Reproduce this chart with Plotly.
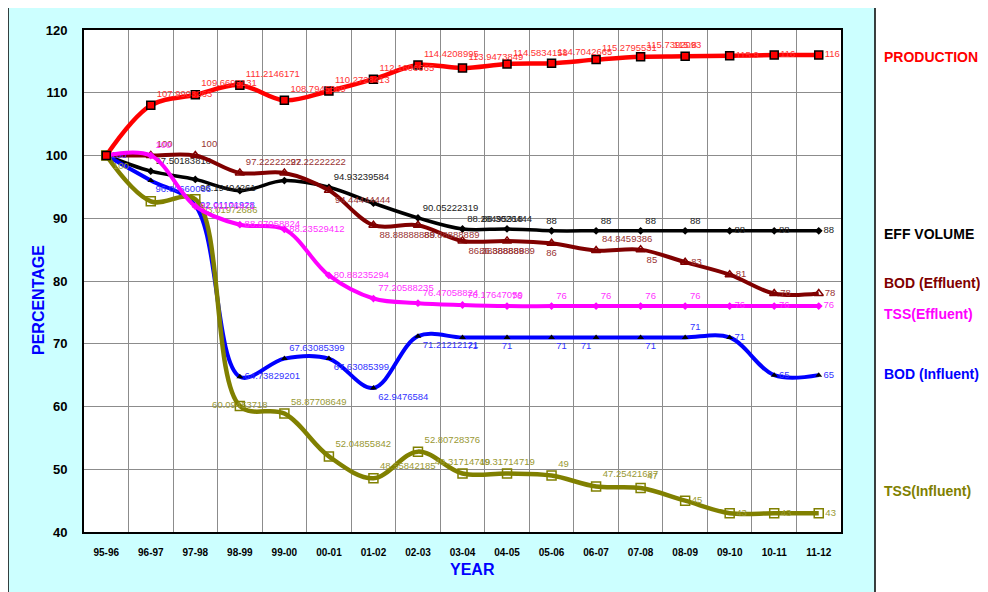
import plotly.graph_objects as go

years = ["95-96", "96-97", "97-98", "98-99", "99-00", "00-01", "01-02", "02-03", "03-04",
         "04-05", "05-06", "06-07", "07-08", "08-09", "09-10", "10-11", "11-12"]

production = [100, 107.9903263, 109.6693131, 111.2146171, 108.7945569, 110.2728413, 112.1606665,
              114.4208995, 113.9473849, 114.5834158, 114.7042665, 115.2795531, 115.7392093,
              115.8, 115.9, 116, 116]
eff_volume = [100, 97.50183818, 96.19404261, 94.4, 96.0, 94.93239584, 92.4, 90.05222319,
              88.28495318, 88.3026444, 88, 88, 88, 88, 88, 88, 88]
bod_effluent = [100, 100, 100, 97.22222222, 97.22222222, 94.44444444, 88.88888889, 88.88888889,
                86.38888889, 86.38888889, 86, 84.8459386, 85, 83, 81, 78, 78]
tss_effluent = [100, 100, 91.91176471, 88.97058824, 88.23529412, 80.88235294, 77.20588235,
                76.47058824, 76.17647059, 76, 76, 76, 76, 76, 76, 76, 76]
bod_influent = [100, 96.00660066, 92.01101928, 64.73829201, 67.63085399, 67.63085399, 62.9476584,
                71.21212121, 71, 71, 71, 71, 71, 71, 71, 65, 65]
tss_influent = [100, 92.7, 93.01972686, 60.09453718, 58.87708649, 52.04855842, 48.55842185,
                52.80728376, 49.31714719, 49.31714719, 49, 47.25421687, 47, 45, 43, 43, 43]

# indices whose data labels are not visible in the reference
hidden = {
    "production": [0],
    "eff_volume": [0, 3, 4, 6],
    "bod_effluent": [0],
    "tss_effluent": [0],
    "bod_influent": [],
    "tss_influent": [1],
}

y_ticks = [40, 50, 60, 70, 80, 90, 100, 110, 120]
FONT = "Arial, Liberation Sans, sans-serif"


def labels(values, key):
    return ["" if i in hidden[key] else str(v) for i, v in enumerate(values)]


TR, MR, BR, TC, BC, BL, MC = ("top right", "middle right", "bottom right", "top center",
                              "bottom center", "bottom left", "middle center")

pos_production = [TR] * 13 + [TC, MR, MR, MR]
pos_eff = [TR, TR, BR, TR, TR, TR, TR, TR, TR, TC, TC, TR, TR, TR, MR, MR, MR]
pos_bode = [TR, TR, TR, TR, TR, BR, BR, BR, BR, BC, BC, TR, BR, MR, MR, MR, MR]
pos_tsse = [TR, TR, MR, MR, MR, MR, TR, TR, TR, TR, TR, TR, TR, TR, MR, MR, MR]
pos_bodi = [MR, BR, MR, MR, TR, BR, BR, BR, BR, BC, BR, BL, BR, TR, MR, MR, MR]
pos_tssi = [BR, BR, BR, MC, TR, TR, TR, TR, TC, TC, TR, TR, TR, MR, MR, MR, MR]

series = [
    ("eff_volume", eff_volume, "#000000", "#222222", dict(symbol="diamond", size=6, color="#000000"), 3.5, pos_eff),
    ("bod_effluent", bod_effluent, "#800000", "#993333",
     dict(symbol="triangle-up-open", size=8, color="#800000", line=dict(width=1.5, color="#800000")), 4, pos_bode),
    ("bod_influent", bod_influent, "#0000FF", "#3333FF",
     dict(symbol="triangle-up", size=6, color="#000000"), 4, pos_bodi),
    ("tss_influent", tss_influent, "#808000", "#999933",
     dict(symbol="square-open", size=9, color="#808000", line=dict(width=1.5, color="#808000")), 4.5, pos_tssi),
    ("tss_effluent", tss_effluent, "#FF00FF", "#FF33FF", dict(symbol="diamond", size=6, color="#FF00FF"), 4, pos_tsse),
    ("production", production, "#FF0000", "#FF3333",
     dict(symbol="square", size=8, color="#FF0000", line=dict(width=1.5, color="#000000")), 4.5, pos_production),
]

fig = go.Figure()
for key, vals, color, tcolor, marker, width, pos in series:
    fig.add_trace(go.Scatter(
        x=years, y=vals, mode="lines+markers+text",
        line=dict(color=color, width=width, shape="spline", smoothing=1.0),
        marker=marker,
        text=labels(vals, key), textposition=pos,
        textfont=dict(family=FONT, size=9.5, color=tcolor),
        cliponaxis=False, showlegend=False, name=key,
    ))

# page offset of the figure inside the browser page (default body margin)
OFF = 8
W, H = 988 - OFF, 592 - OFF
L, R, T, B = 84 - OFF, 841 - OFF, 30 - OFF, 532 - OFF


def px_x(p):
    return (p - OFF - L) / (R - L)


def px_y(p):
    return (B - (p - OFF)) / (B - T)


shapes = [
    dict(type="rect", xref="paper", yref="paper", x0=px_x(8), x1=px_x(875), y0=px_y(660), y1=px_y(3),
         fillcolor="#CCFFFF", line=dict(color="#000000", width=1.5), layer="below"),
    dict(type="rect", xref="paper", yref="paper", x0=0, x1=1, y0=0, y1=1,
         fillcolor="#FFFFFF", line=dict(width=0), layer="below"),
    dict(type="line", xref="paper", yref="y", x0=0, x1=1, y0=60, y1=60,
         line=dict(color="#000000", width=1.2), layer="between"),
]

right_labels = [
    ("PRODUCTION", 57, "#FF0000"),
    ("EFF VOLUME", 234, "#000000"),
    ("BOD (Effluent)", 283, "#800000"),
    ("TSS(Effluent)", 314, "#FF00FF"),
    ("BOD (Influent)", 374, "#0000FF"),
    ("TSS(Influent)", 491, "#808000"),
]
annotations = [
    dict(text=t, x=px_x(882), y=px_y(yy), xref="paper", yref="paper", xanchor="left", yanchor="middle",
         showarrow=False, font=dict(family=FONT, size=14, color=c, weight="bold"))
    for t, yy, c in right_labels
]
annotations += [
    dict(text="PERCENTAGE", x=px_x(38), y=px_y(300), xref="paper", yref="paper", textangle=-90,
         xanchor="center", yanchor="middle",
         showarrow=False, font=dict(family=FONT, size=16, color="#0000FF", weight="bold")),
    dict(text="YEAR", x=px_x(472), y=px_y(569), xref="paper", yref="paper",
         xanchor="center", yanchor="middle",
         showarrow=False, font=dict(family=FONT, size=16, color="#0000FF", weight="bold")),
]

fig.update_layout(
    width=W, height=H,
    margin=dict(l=L, r=W - R, t=T, b=H - B, autoexpand=False),
    paper_bgcolor="#FFFFFF", plot_bgcolor="#FFFFFF",
    shapes=shapes, annotations=annotations,
    font=dict(family=FONT),
)
fig.update_xaxes(
    type="category", range=[-0.5, 16.5], tickson="boundaries",
    showgrid=True, gridcolor="#8C8C8C", gridwidth=1,
    showline=True, linecolor="#000000", linewidth=2, mirror=True,
    ticks="", ticklabelstandoff=10,
    tickfont=dict(family=FONT, size=10, color="#000000", weight="bold"),
)
fig.update_yaxes(
    range=[40, 120], tickvals=y_ticks,
    showgrid=True, gridcolor="#8C8C8C", gridwidth=1, zeroline=False,
    showline=True, linecolor="#000000", linewidth=2, mirror=True,
    ticks="", ticklabelstandoff=12,
    tickfont=dict(family=FONT, size=13, color="#000000", weight="bold"),
)

fig.write_html("out.html")
